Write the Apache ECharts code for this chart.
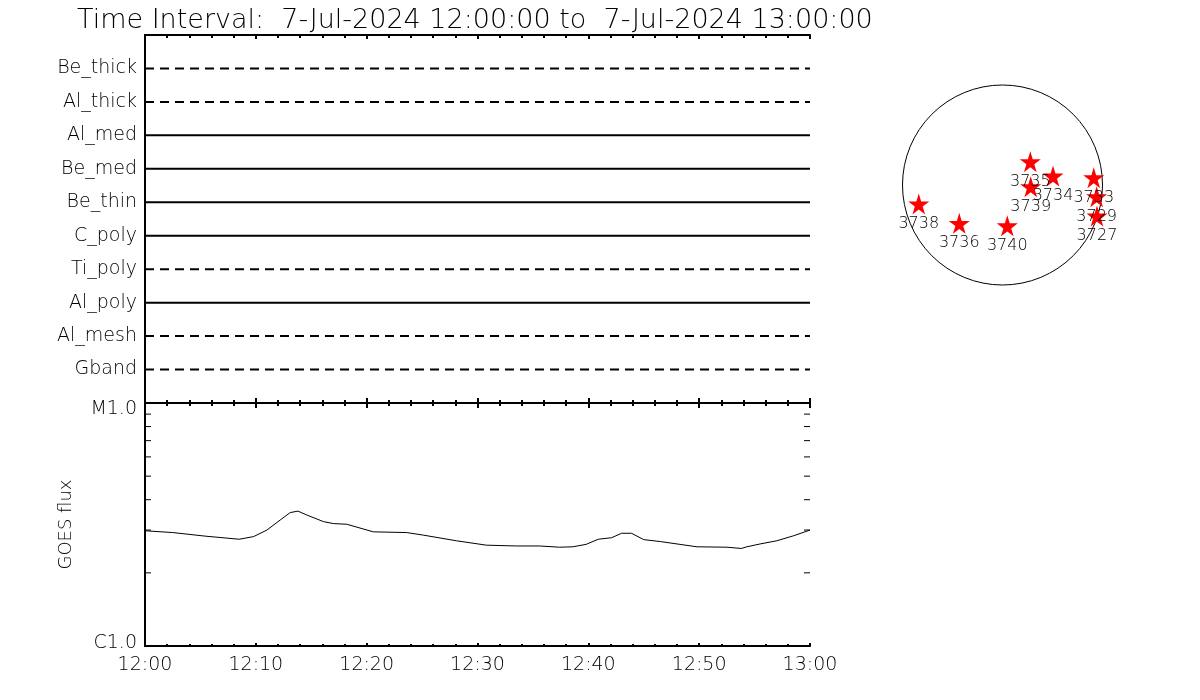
<!DOCTYPE html>
<html>
<head>
<meta charset="utf-8">
<script src="https://cdn.jsdelivr.net/npm/echarts@6/dist/echarts.min.js"></script>
<style>html,body{margin:0;padding:0;background:#fff}#c{width:1200px;height:700px}</style>
</head>
<body>
<div id="c"></div>
<script>
// ---- data ----
const titleText = 'Time Interval:  7-Jul-2024 12:00:00 to  7-Jul-2024 13:00:00';
const channelNames = ['Gband','Al_mesh','Al_poly','Ti_poly','C_poly','Be_thin','Be_med','Al_med','Al_thick','Be_thick'];
const channelObserved = [false,false,true,false,true,true,true,true,false,false];
const xTickLabels = ['12:00','12:10','12:20','12:30','12:40','12:50','13:00'];
// GOES flux (minutes after 12:00, flux in W/m^2)
const goesMinutes = [0,2.5,5.5,8.5,9.8,11,12.2,13.1,13.8,14.6,16.1,17,18.2,20.6,23.6,25.1,28.1,30.8,33.5,35.6,37.4,38.6,39.8,40.9,42.1,43,43.9,45,46.5,48,49.8,52.5,53.8,54.3,55.5,57,58.5,60];
const goesFlux = [2.98e-6,2.93e-6,2.83e-6,2.75e-6,2.82e-6,3.0e-6,3.3e-6,3.54e-6,3.59e-6,3.46e-6,3.25e-6,3.19e-6,3.17e-6,2.95e-6,2.93e-6,2.86e-6,2.71e-6,2.60e-6,2.58e-6,2.58e-6,2.55e-6,2.56e-6,2.62e-6,2.75e-6,2.79e-6,2.91e-6,2.91e-6,2.74e-6,2.69e-6,2.63e-6,2.56e-6,2.55e-6,2.52e-6,2.56e-6,2.63e-6,2.71e-6,2.84e-6,3.0e-6];
const goesClassTicks = [1e-6, 1e-5];
const goesClassLabels = ['C1.0', 'M1.0'];
const goesMinorTicks = [2e-6,3e-6,4e-6,5e-6,6e-6,7e-6,8e-6,9e-6];
// Active regions on the solar disk (arcsec)
const solarRadius = 960;
const regionNumbers = ['3735','3734','3739','3738','3736','3740','3733','3729','3727'];
const regionX = [267,485,271,-804,-415,46,876,904,907];
const regionY = [224,86,-16,-182,-368,-391,70,-112,-298];

// ---- chart ----
const FONT = 'DejaVu Sans';
const FW = 200;
const chart = echarts.init(document.getElementById('c'), null, {renderer:'canvas'});
const blk = '#000';
function timeAxis(grid, pos, showLabel, majorLen, minorLen) {
  return {
    type:'value', gridIndex:grid, position:pos, min:0, max:60, interval:10,
    axisLine:{show:true, onZero:false, lineStyle:{color:blk, width:2}},
    axisTick:{show:true, inside:true, length:majorLen, lineStyle:{color:blk, width:2}},
    minorTick:{show:true, splitNumber:5, length:minorLen, lineStyle:{color:blk, width:2}},
    splitLine:{show:false}, minorSplitLine:{show:false},
    axisLabel:{show:showLabel, color:blk, fontFamily:FONT, fontWeight:FW, fontSize:19, margin:10,
      formatter:(v)=>xTickLabels[Math.round(v/10)] || ''}
  };
}
const series = [];
channelNames.forEach((n,i)=>{
  series.push({
    type:'line', xAxisIndex:0, yAxisIndex:0, showSymbol:false, silent:true,
    data:[[0,i+1],[60,i+1]],
    lineStyle:{color:blk, width:2, type: channelObserved[i] ? 'solid' : [9,6]}
  });
});
series.push({
  type:'line', xAxisIndex:3, yAxisIndex:2, showSymbol:false, silent:true,
  data: goesMinutes.map((m,i)=>[m, goesFlux[i]]),
  lineStyle:{color:blk, width:1}
});
// minor ticks of the logarithmic flux axis (both sides, pointing inward)
series.push({
  type:'custom', xAxisIndex:3, yAxisIndex:2, silent:true, clip:false,
  data: goesMinorTicks.map(v=>[0, v, 60]),
  renderItem:(params, api)=>{
    const l = api.coord([api.value(0), api.value(1)]);
    const r = api.coord([api.value(2), api.value(1)]);
    return {type:'group', children:[
      {type:'line', shape:{x1:l[0], y1:l[1], x2:l[0]+6, y2:l[1]}, style:{stroke:blk, lineWidth:1}},
      {type:'line', shape:{x1:r[0], y1:r[1], x2:r[0]-6, y2:r[1]}, style:{stroke:blk, lineWidth:1}}
    ]};
  }
});
series.push({
  type:'custom', xAxisIndex:4, yAxisIndex:4, silent:true,
  data:[[0,0,solarRadius]],
  renderItem:(params, api)=>{
    const c = api.coord([api.value(0), api.value(1)]);
    const r = api.size([api.value(2), api.value(2)])[0];
    return {type:'circle', shape:{cx:c[0], cy:c[1], r:r}, style:{fill:'none', stroke:blk, lineWidth:1}};
  }
});
series.push({
  type:'scatter', xAxisIndex:4, yAxisIndex:4, silent:true,
  symbol:'path://M50,0 L61,35 L98,35 L68,57 L79,91 L50,70 L21,91 L32,57 L2,35 L39,35 Z',
  symbolSize:[21,21],
  itemStyle:{color:'#ff0000', opacity:1},
  label:{show:true, position:'inside', offset:[0,20], color:blk, textBorderWidth:0,
    fontFamily:FONT, fontWeight:FW, fontSize:16,
    formatter:(p)=>regionNumbers[p.dataIndex]},
  data: regionX.map((x,i)=>[x, regionY[i]])
});

const option = {
  animation:false,
  backgroundColor:'#fff',
  title:{text:titleText, left:72, top:2, textStyle:{color:blk, fontFamily:FONT, fontWeight:FW, fontSize:27}},
  grid:[
    {left:145, top:35, width:665, height:368},
    {left:145, top:403, width:665, height:243},
    {left:902.5, top:85, width:200, height:200}
  ],
  xAxis:[
    timeAxis(0,'top',false,4,3),
    timeAxis(0,'bottom',false,5,3),
    timeAxis(1,'top',false,5,3),
    timeAxis(1,'bottom',true,3,2),
    {type:'value', gridIndex:2, min:-solarRadius, max:solarRadius, show:false}
  ],
  yAxis:[
    {type:'value', gridIndex:0, position:'left', min:0, max:11, interval:1,
      axisLine:{show:true, lineStyle:{color:blk, width:2}}, axisTick:{show:false}, splitLine:{show:false},
      axisLabel:{color:blk, fontFamily:FONT, fontWeight:FW, fontSize:19, margin:8, formatter:(v)=>channelNames[v-1] || ''}},
    {type:'value', gridIndex:0, position:'right', min:0, max:11, interval:1,
      axisLine:{show:true, lineStyle:{color:blk, width:2}}, axisTick:{show:false}, splitLine:{show:false}, axisLabel:{show:false}},
    {type:'log', gridIndex:1, position:'left', min:1e-6, max:1e-5, logBase:10,
      name:'GOES flux', nameLocation:'middle', nameGap:70, nameRotate:90,
      nameTextStyle:{color:blk, fontFamily:FONT, fontWeight:FW, fontSize:18},
      axisLine:{show:true, lineStyle:{color:blk, width:2}},
      axisTick:{show:false},
      splitLine:{show:false},
      axisLabel:{color:blk, fontFamily:FONT, fontWeight:FW, fontSize:19, margin:8, customValues:goesClassTicks,
        formatter:(v)=> v < 3e-6 ? '{lo|' + goesClassLabels[0] + '}' : '{hi|' + goesClassLabels[1] + '}',
        rich:{
          lo:{color:blk, fontFamily:FONT, fontWeight:FW, fontSize:19, padding:[0,0,6,0]},
          hi:{color:blk, fontFamily:FONT, fontWeight:FW, fontSize:19, padding:[12,0,0,0]}
        }}},
    {type:'log', gridIndex:1, position:'right', min:1e-6, max:1e-5, logBase:10,
      axisLine:{show:true, lineStyle:{color:blk, width:2}},
      axisTick:{show:false}, splitLine:{show:false}, axisLabel:{show:false}},
    {type:'value', gridIndex:2, min:-solarRadius, max:solarRadius, show:false}
  ],
  series:series
};
chart.setOption(option);
</script>
</body>
</html>
